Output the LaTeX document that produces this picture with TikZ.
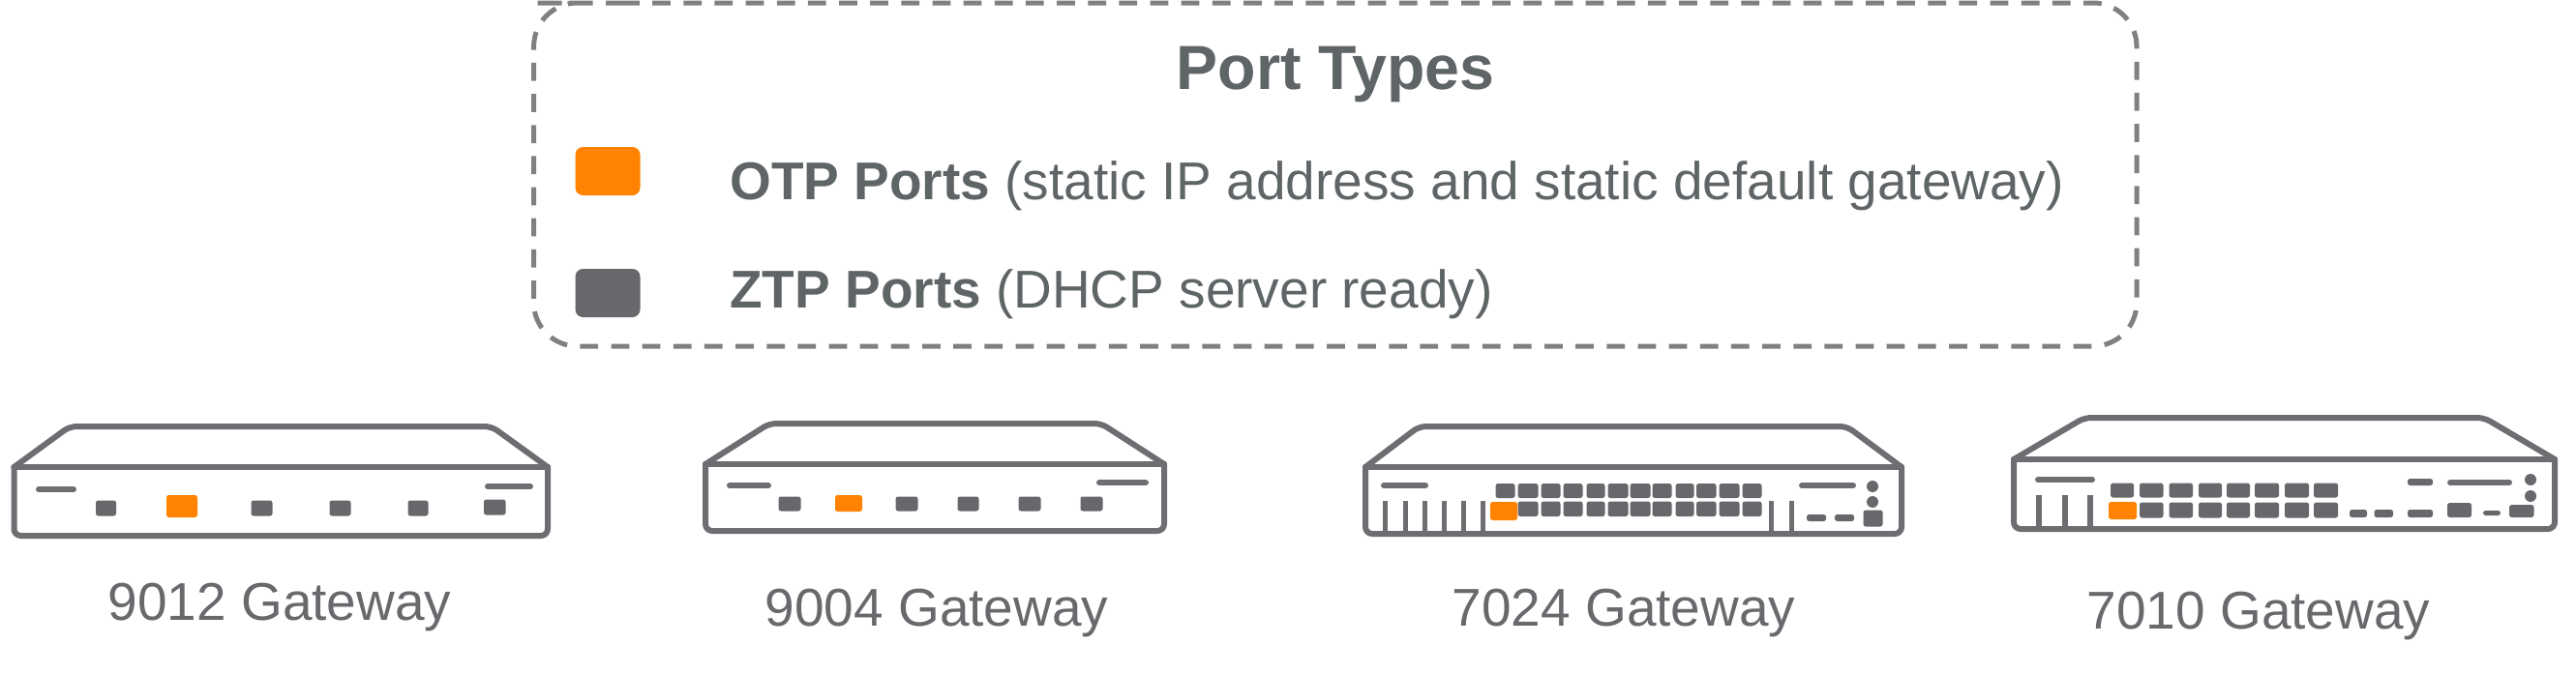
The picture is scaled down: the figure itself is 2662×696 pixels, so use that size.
\documentclass[tikz,border=0pt]{standalone}
\usepackage{fontspec}
\setmainfont{Liberation Sans}
\definecolor{orangeport}{HTML}{FF8200}
\definecolor{grayport}{HTML}{68676C}
\definecolor{bodyline}{HTML}{6D6D72}
\definecolor{dashline}{HTML}{808080}
\definecolor{legendtext}{HTML}{5F6567}
\definecolor{labeltext}{HTML}{68696C}
\tikzset{
  legendbox/.style={draw=dashline,line width=5pt,dash pattern=on 18.75pt off 13.4pt,rounded corners=45pt},
  swatch/.style={rounded corners=8pt},
  bodystroke/.style={draw=bodyline,line width=6pt,line join=round,line cap=round},
  slash/.style={draw=bodyline,line width=6pt,line cap=round},
  gport/.style={fill=grayport,rounded corners=2.5pt},
  oport/.style={fill=orangeport,rounded corners=2.5pt},
  devlabel/.style={anchor=base,text=labeltext,font=\fontsize{55}{60}\selectfont,inner sep=0pt},
  legendlabel/.style={anchor=base west,text=legendtext,font=\fontsize{55}{60}\selectfont,inner sep=0pt},
  legendtitle/.style={anchor=base,text=legendtext,font=\fontsize{64.5}{70}\selectfont\bfseries,inner sep=0pt},
}
% #1 left #2 right #3 top #4 front #5 bottom #6 apex left #7 apex right
\newcommand{\chassis}[7]{%
  \draw[bodystroke,rounded corners=7pt] (#1,#4) -- (#6,#3) -- (#7,#3) -- (#2,#4);
  \draw[bodystroke] (#1,#4) -- (#2,#4);
  \draw[bodystroke,rounded corners=7pt] (#1,#4) -- (#1,#5) -- (#2,#5) -- (#2,#4);
}
\begin{document}
\begin{tikzpicture}[x=1pt,y=-1pt]
\useasboundingbox (0,0) rectangle (2662,696);
% legend
\draw[legendbox] (597,3) -- (2208,3) -- (2208,358) -- (551.6,358) -- (551.6,3) -- cycle;
\node[legendtitle] (title) at (1380,92) {Port Types};
\fill[orangeport,swatch] (594.5,152) rectangle (661.5,202);
\fill[grayport,swatch] (594.5,278) rectangle (661.5,328);
\node[legendlabel] (otp) at (754,206) {\textbf{OTP Ports} (static IP address and static default gateway)};
\node[legendlabel] (ztp) at (754,318) {\textbf{ZTP Ports} (DHCP server ready)};

% 9012
\chassis{14.5}{566}{441}{483}{554}{72}{508}
\draw[slash] (40,506) -- (76,506);
\draw[slash] (504,503) -- (548,503);
\fill[gport] (99,517.5) rectangle (120,533.5);
\fill[oport] (172,512) rectangle (204,535);
\foreach \a/\b in {259.5/281.5,340.5/362.5,421.5/442.5} \fill[gport] (\a,517.5) rectangle (\b,533.5);
\fill[gport] (500,516.5) rectangle (522.5,532.5);
\node[devlabel] (g9012) at (289,641) {9012 Gateway};

% 9004
\chassis{729}{1203}{438}{480}{549}{795}{1138}
\draw[slash] (754,502) -- (794,502);
\draw[slash] (1136,499) -- (1184,499);
\fill[oport] (863,512) rectangle (891,529);
\foreach \a/\b in {804.5/827.5,925.5/948.5,989.5/1011.5,1052.5/1075.5,1116.5/1139.5} \fill[gport] (\a,513.5) rectangle (\b,528.5);
\node[devlabel] (g9004) at (968,647) {9004 Gateway};

% 7024
\chassis{1411}{1965}{441}{483}{552}{1466.5}{1908.5}
\draw[slash] (1430,502) -- (1473,502);
\draw[slash] (1862,502) -- (1915,502);
\foreach \x in {1431,1452,1472,1492,1512.5,1532,1830.5,1851} \draw[bodyline,line width=5pt] (\x,552) -- (\x,518);
\foreach \a/\b in {1545.5/1565.5,1568.5/1589.5,1592.5/1612.5,1615.5/1635.5,1639.5/1658.5,1661.5/1682.5,1684.5/1705.5,1707.5/1727.5,1731.5/1750.5,1753/1773.5,1776.5/1797.5,1800.5/1820.5} \fill[gport] (\a,500) rectangle (\b,515);
\foreach \a/\b in {1568.5/1589.5,1592.5/1612.5,1615.5/1635.5,1639.5/1658.5,1661.5/1682.5,1684.5/1705.5,1707.5/1727.5,1731.5/1750.5,1753/1773.5,1776.5/1797.5,1800.5/1820.5} \fill[gport] (\a,518.5) rectangle (\b,534);
\fill[oport] (1540,519) rectangle (1568,538);
\fill[grayport] (1935,503) circle (6pt);
\fill[grayport] (1935,519) circle (6pt);
\fill[gport] (1867,532) rectangle (1887,539);
\fill[gport] (1896,532) rectangle (1916,539);
\fill[gport] (1925.5,527.5) rectangle (1945.5,544.5);
\node[devlabel] (g7024) at (1678,647) {7024 Gateway};

% 7010
\chassis{2081}{2640}{432}{475}{547}{2154}{2567}
\draw[slash] (2106,496) -- (2162,496);
\draw[slash] (2532,499) -- (2593,499);
\foreach \x in {2107,2134,2160} \draw[bodyline,line width=5.5pt] (\x,547) -- (\x,512);
\foreach \a/\b in {2181/2205,2211/2235.5,2241.5/2266,2272/2296,2301/2325,2330/2355,2361/2386,2391/2416} \fill[gport] (\a,499.5) rectangle (\b,514.5);
\foreach \a/\b in {2211/2235.5,2241.5/2266,2272/2296,2301/2325,2330/2355,2361/2386,2391/2416} \fill[gport] (\a,519.5) rectangle (\b,535.5);
\fill[oport] (2179,519) rectangle (2208,537);
\fill[gport] (2428,527) rectangle (2446,535);
\fill[gport] (2453.5,527) rectangle (2473,535);
\fill[gport] (2488,527) rectangle (2514,535);
\fill[gport] (2488,495) rectangle (2514,502);
\fill[gport] (2529,520) rectangle (2554,535);
\fill[gport] (2566,528) rectangle (2584,533);
\fill[gport] (2593,522) rectangle (2618.5,535);
\fill[grayport] (2615,496) circle (6pt);
\fill[grayport] (2615,513) circle (6pt);
\node[devlabel] (g7010) at (2334,650) {7010 Gateway};
\end{tikzpicture}
\end{document}
